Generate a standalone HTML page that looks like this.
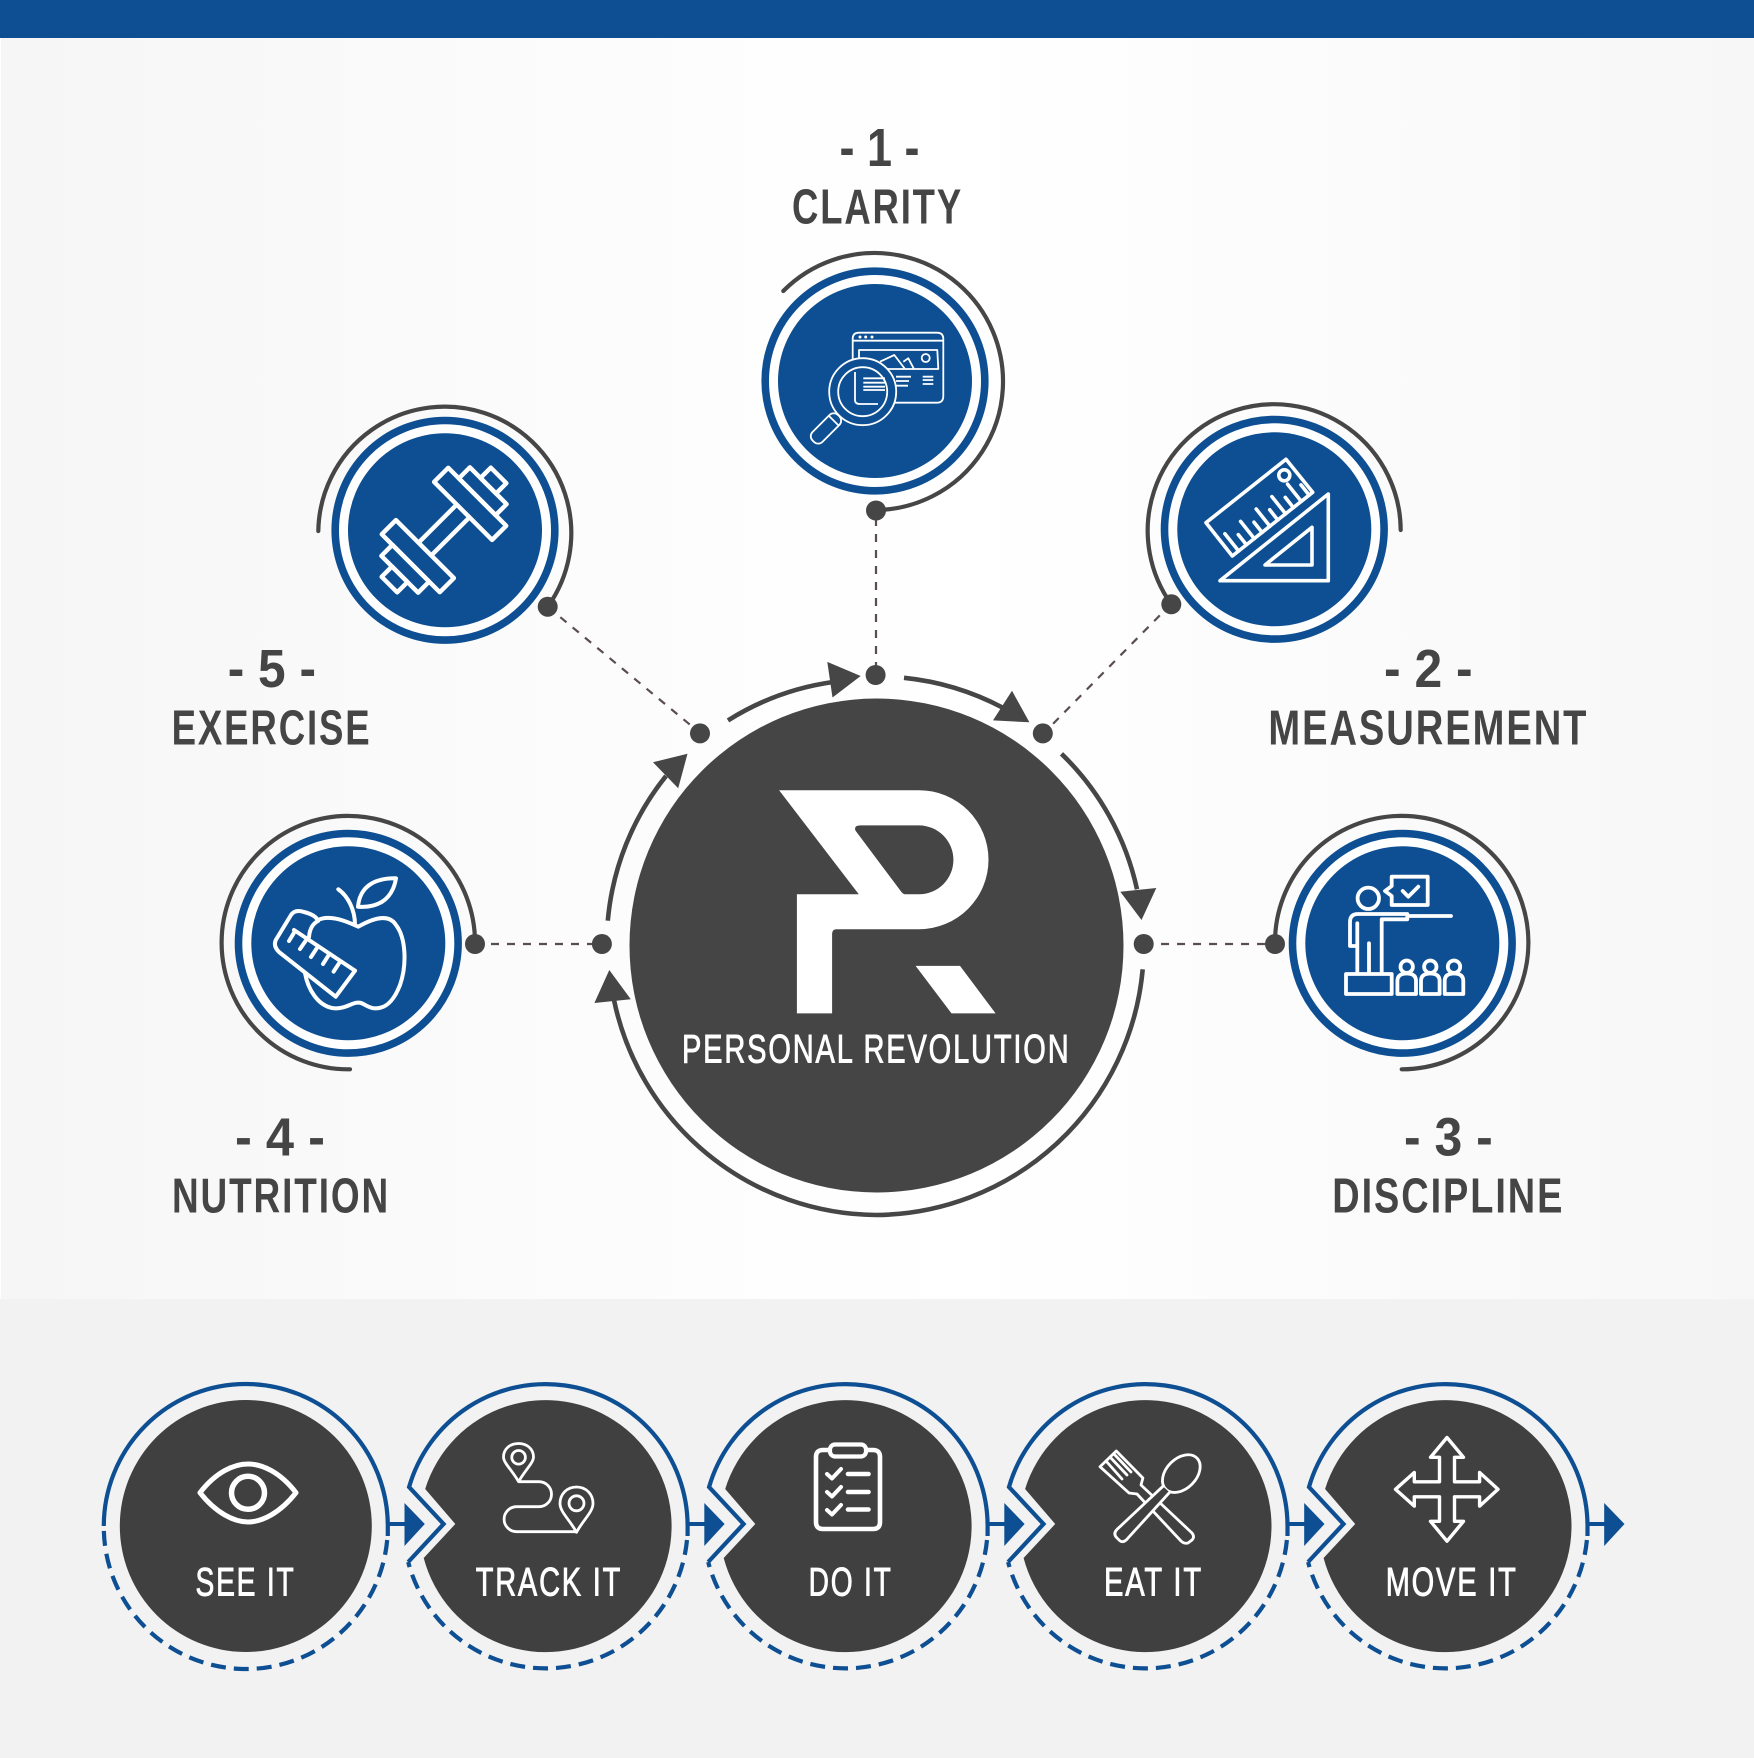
<!DOCTYPE html>
<html><head><meta charset="utf-8"><style>
html,body{margin:0;padding:0;background:#fff}
svg{display:block}
.h{font-family:"Liberation Sans",sans-serif;font-weight:700;font-size:49px;fill:#454545;letter-spacing:2.5px}
.n{font-family:"Liberation Sans",sans-serif;font-weight:700;font-size:54px;fill:#454545}
.w{font-family:"Liberation Sans",sans-serif;font-weight:400;font-size:39.5px;fill:#fff;stroke:#fff;stroke-width:.9;letter-spacing:2.5px}
</style></head><body>
<svg xmlns="http://www.w3.org/2000/svg" width="1754" height="1758" viewBox="0 0 1754 1758">
<defs>
<linearGradient id="bg" x1="0" x2="1" y1="0" y2="0"><stop offset="0" stop-color="#f6f6f6"/><stop offset=".4" stop-color="#fdfdfd"/><stop offset=".55" stop-color="#fff"/><stop offset="1" stop-color="#f7f7f7"/></linearGradient>
<g id="arr"><path d="M142,-2H160" stroke="#0d4f92" stroke-width="4" fill="none"/><path d="M158.7,-23L179,-2L158.7,20Z" fill="#0d4f92"/></g>
<g id="notched">
<path d="M-120.4,-37A126,126 0 1 1 -121.9,32L-90.3,-2Z" fill="#404040"/>
<path d="M142,10V0A142,142 0 0 0 -136.5,-39L-102,-2L-137.4,36" fill="none" stroke="#0d4f92" stroke-width="4.2"/>
<path d="M141.4,14A142,142 0 0 1 -137.4,36" fill="none" stroke="#0d4f92" stroke-width="4.2" stroke-dasharray="15 8"/>
<use href="#arr"/>
</g>
</defs>
<rect width="1754" height="1758" fill="#fff"/>
<rect x="1" y="38" width="1753" height="1261" fill="url(#bg)"/>
<rect y="1299" width="1754" height="459" fill="#f2f2f2"/>
<rect width="1754" height="38" fill="#0d4f92"/>

<!-- dashed connectors -->
<g stroke="#5a4d4d" stroke-width="2.2" fill="none" stroke-dasharray="8 8">
<path d="M876,518V668"/>
<path d="M1171,604L1044,733"/>
<path d="M548,607L700,733"/>
<path d="M475,944H602"/>
<path d="M1145,944H1275"/>
</g>

<!-- small circles -->
<g fill="#fff" stroke="#0d4f92" stroke-width="7.6">
<circle cx="875" cy="381" r="109.8"/>
<circle cx="1274.3" cy="529.3" r="109.8"/>
<circle cx="1402.3" cy="943.3" r="109.8"/>
<circle cx="348.3" cy="943.3" r="109.8"/>
<circle cx="445" cy="530.3" r="109.8"/>
</g>
<g fill="#0d4f92">
<circle cx="875" cy="381" r="97"/>
<circle cx="1274.3" cy="529.3" r="97"/>
<circle cx="1402.3" cy="943.3" r="97"/>
<circle cx="348.3" cy="943.3" r="97"/>
<circle cx="445" cy="530.3" r="97"/>
</g>
<!-- outer arcs -->
<g fill="none" stroke="#464646" stroke-width="4.2" stroke-linecap="round">
<path d="M783.3,291A128.5,128.5 0 1 1 876,510"/>
<path d="M1400.7,530A126.5,126.5 0 1 0 1171.3,604.3"/>
<path d="M1275,944A126.7,126.7 0 1 1 1401.7,1069.3"/>
<path d="M475,944.3A126.7,126.7 0 1 0 350,1069.3"/>
<path d="M318.3,531A126.5,126.5 0 1 1 547.7,606.7"/>
</g>
<g fill="#464646">
<circle cx="876" cy="510.5" r="10"/><circle cx="1171.3" cy="604.3" r="10"/><circle cx="1275" cy="944" r="10"/><circle cx="475" cy="944" r="10"/><circle cx="547.7" cy="606.7" r="10"/>
<circle cx="875.6" cy="675" r="10"/><circle cx="700" cy="733.4" r="10"/><circle cx="1042.8" cy="733.4" r="10"/><circle cx="601.9" cy="944" r="10"/><circle cx="1143.7" cy="944" r="10"/>
</g>

<!-- main circle -->
<circle cx="876.5" cy="945.5" r="247" fill="#454545"/>
<g fill="none" stroke="#464646" stroke-width="4.6">
<path d="M728,720.4A268,268 0 0 1 833,682"/>
<path d="M904,677.8A268.6,268.6 0 0 1 1002.4,707.5"/>
<path d="M1061.5,753.8A268.6,268.6 0 0 1 1137,889.2"/>
<path d="M1142.7,969.3A270,270 0 0 1 876,1215A270,270 0 0 1 614,1000"/>
<path d="M607.8,920.7A269,269 0 0 1 666,776"/>
</g>
<g fill="#464646">
<path d="M860.7,676L827.3,661.9L832.5,697.5Z"/>
<path d="M1029.4,722.3L1012,690.8L993,720.4Z"/>
<path d="M1141.5,920L1120.3,891.8L1156.3,888Z"/>
<path d="M609.3,970L594.4,1003L630.8,999.3Z"/>
<path d="M687.5,753.8L653,762.3L678.2,788.3Z"/>
</g>
<!-- logo -->
<path fill="#fff" fill-rule="evenodd" d="M779.1,790.2H919A69.5,69.5 0 0 1 919,929.2H836.6Q832.1,929.2 832.1,933.6V1013.4H796.9V894.3H858.8Z M855.5,830.6L900.7,891Q903,894.3 905.2,894.3H919A34.45,34.45 0 0 0 919,825.4H860.7Q853.5,825.4 855.5,830.6Z"/>
<path fill="#fff" d="M915.6,965.9H960L995.6,1013.4H951.5Z"/>
<text class="w" x="682" y="1062.7" textLength="388.5" lengthAdjust="spacingAndGlyphs">PERSONAL REVOLUTION</text>

<!-- labels -->
<text class="n" x="839.5" y="165.8" textLength="80" lengthAdjust="spacingAndGlyphs">- 1 -</text>
<text class="h" x="792" y="223.3" textLength="171" lengthAdjust="spacingAndGlyphs">CLARITY</text>
<text class="n" x="1384" y="687" textLength="88.6" lengthAdjust="spacingAndGlyphs">- 2 -</text>
<text class="h" x="1268.4" y="744.5" textLength="320" lengthAdjust="spacingAndGlyphs">MEASUREMENT</text>
<text class="n" x="1404" y="1155.5" textLength="88.7" lengthAdjust="spacingAndGlyphs">- 3 -</text>
<text class="h" x="1332.3" y="1212.7" textLength="232" lengthAdjust="spacingAndGlyphs">DISCIPLINE</text>
<text class="n" x="235" y="1155.5" textLength="90" lengthAdjust="spacingAndGlyphs">- 4 -</text>
<text class="h" x="172" y="1212.7" textLength="218" lengthAdjust="spacingAndGlyphs">NUTRITION</text>
<text class="n" x="227.7" y="687" textLength="88.3" lengthAdjust="spacingAndGlyphs">- 5 -</text>
<text class="h" x="171.6" y="744.5" textLength="200" lengthAdjust="spacingAndGlyphs">EXERCISE</text>

<!-- icon: clarity -->
<g fill="none" stroke="#fff" stroke-width="1.8" stroke-linejoin="round">
<path d="M852.7,402.7V339Q852.7,332.7 859,332.7H937Q943.3,332.7 943.3,339V396Q943.3,402.7 937,402.7Z"/>
<path d="M852.7,340.7H943.3"/>
<path d="M859,350H937.3L938.3,369H859Z"/>
<circle cx="925.7" cy="358" r="4"/>
<path d="M880,361.7L894.3,355L905,369M903.3,361.7L908.3,358.3L914,369"/>
<path d="M896,376.7H911M896,381H909M896,385.7H908M922.7,376.7H933.3M922.7,380H933.3M922.7,384H933.3"/>
<g transform="translate(838.7,415.7) rotate(45)"><rect x="-7" y="0" width="14" height="36" rx="6" fill="#0d4f92"/><path d="M-7,7H7"/></g>
<circle cx="862.7" cy="391.7" r="33.5" fill="#0d4f92"/>
<circle cx="862.7" cy="391.7" r="24.5"/>
<path d="M863.3,378.3H885M863.3,382.7H885M863.3,386.7H885M863.3,390H885M855,372V400Q855,404 860,404H878"/>
</g>
<g fill="#fff"><circle cx="860" cy="337" r="1.5"/><circle cx="865.7" cy="337" r="1.5"/><circle cx="872" cy="337" r="1.5"/></g>
<!-- icon: measurement -->
<g fill="none" stroke="#fff" stroke-width="3.6" stroke-linejoin="round" stroke-linecap="round">
<path d="M1286,459.3L1312.7,492.3L1232.3,556L1206,522.7Z"/>
<circle cx="1284.3" cy="475.3" r="5.5"/>
<path d="M1238.6,551L1224.9,533.8M1246.4,544.8L1238.3,534.6M1254.3,538.6L1240.6,521.4M1262.1,532.4L1254,522.2M1269.9,526.2L1256.2,509M1277.8,520L1269.7,509.8M1285.6,513.8L1271.9,496.6M1293.4,507.6L1285.3,497.4M1301.3,501.4L1287.6,484.2M1309.1,495.1L1301,484.9"/>
<path d="M1328.3,494V580.7H1220Z"/>
<path d="M1312,527.3V565H1265Z"/>
</g>
<!-- icon: discipline -->
<g fill="none" stroke="#fff" stroke-width="3.8" stroke-linejoin="round" stroke-linecap="round">
<circle cx="1368.3" cy="898.3" r="10.7"/>
<path d="M1391.7,876.7H1427.7V905H1391.7V896L1385,891L1391.7,886Z"/>
<path d="M1402.7,891L1408.3,896.7L1418.3,886.7"/>
<path d="M1357.3,946H1350V922Q1350,914 1358,914H1407.3V919.3H1381.7V973.3M1357.3,923.3V973.3M1369,943.3V973.3M1407.3,916H1451"/>
<rect x="1346" y="974" width="45.7" height="20"/>
<g><circle cx="1406.7" cy="966.7" r="6.2"/><path d="M1397.4,994V981Q1397.4,973.5 1406.7,973.5Q1416,973.5 1416,981V994Z"/></g>
<g><circle cx="1430.3" cy="966.7" r="6.2"/><path d="M1421,994V981Q1421,973.5 1430.3,973.5Q1439.6,973.5 1439.6,981V994Z"/></g>
<g><circle cx="1454" cy="966.7" r="6.2"/><path d="M1444.7,994V981Q1444.7,973.5 1454,973.5Q1463.3,973.5 1463.3,981V994Z"/></g>
</g>
<!-- icon: nutrition -->
<g fill="none" stroke="#fff" stroke-width="4" stroke-linejoin="round" stroke-linecap="round">
<path d="M318,920C330,914 348,922 358.3,926.7C370,920 388,912 396,925C406,938 407,965 400,985C393,1003 384,1010 372,1008C365,1006 362,1002 358.3,1002.7C352,1002 345,1010 332,1008C318,1005 308,990 305,973"/>
<path d="M338.3,889.3C348,896 355,910 355,925"/>
<path d="M396,878.3C378,878 360,884 358,906.7C375,908 392,902 396,878.3Z"/>
<path d="M355,970.7L335.7,996.7L279,952Q272,945 277,938L291,915Q295,909 304,912Q316,915 318,921Q310,925 309,937"/>
<path d="M355,970.7L294,930M294,932.7L289,941M305.7,940.7L300,949M316.7,948.3L311,957M328.3,955.7L323,964M339,963.3L333.6,971.6"/>
</g>
<!-- icon: exercise -->
<g transform="translate(444,530) rotate(-45)" fill="none" stroke="#fff" stroke-width="4.4" stroke-linejoin="round">
<path d="M-27,-9H27M-27,9H27"/>
<rect x="27" y="-41" width="20" height="82"/>
<rect x="47" y="-26" width="15.6" height="52"/>
<rect x="62.6" y="-11" width="14.6" height="22"/>
<rect x="-47" y="-41" width="20" height="82"/>
<rect x="-62.6" y="-26" width="15.6" height="52"/>
<rect x="-77.2" y="-11" width="14.6" height="22"/>
</g>

<!-- bottom row -->
<g transform="translate(245.8,1526)">
<circle r="126" fill="#404040"/>
<path d="M142,10V0A142,142 0 0 0 -142,0" fill="none" stroke="#0d4f92" stroke-width="4.2"/>
<path d="M141.4,14A142,142 0 0 1 -142,2" fill="none" stroke="#0d4f92" stroke-width="4.2" stroke-dasharray="15 8"/>
<use href="#arr"/>
</g>
<use href="#notched" transform="translate(545.6,1526)"/>
<use href="#notched" transform="translate(845.6,1526)"/>
<use href="#notched" transform="translate(1145.5,1526)"/>
<use href="#notched" transform="translate(1445.5,1526)"/>

<text class="w" x="195.5" y="1595.7" textLength="100" lengthAdjust="spacingAndGlyphs">SEE IT</text>
<text class="w" x="475.7" y="1595.7" textLength="146.5" lengthAdjust="spacingAndGlyphs">TRACK IT</text>
<text class="w" x="808.6" y="1595.7" textLength="84" lengthAdjust="spacingAndGlyphs">DO IT</text>
<text class="w" x="1104" y="1595.7" textLength="99" lengthAdjust="spacingAndGlyphs">EAT IT</text>
<text class="w" x="1385.7" y="1595.7" textLength="132" lengthAdjust="spacingAndGlyphs">MOVE IT</text>

<!-- see it -->
<g fill="none" stroke="#fff" stroke-linejoin="round">
<path stroke-width="5" d="M200,1492.7C216,1472 234,1464 248,1464C262,1464 280,1472 296,1492.7C280,1513 262,1522 248,1522C234,1522 216,1513 200,1492.7Z"/>
<circle cx="248" cy="1492.8" r="16.5" stroke-width="5.5"/>
</g>
<!-- track it -->
<g fill="none" stroke="#fff" stroke-width="2.8" stroke-linejoin="round">
<path d="M518.6,1481.7C512,1470 503.5,1463 503.5,1457C503.5,1449 510,1443.5 518.6,1443.5C527,1443.5 533.5,1449 533.5,1457C533.5,1463 525,1470 518.6,1481.7Z"/>
<circle cx="518.6" cy="1457.3" r="6.8"/>
<path d="M576.5,1532.3C570,1520 560,1512 560,1503.5C560,1494 567,1487 576.5,1487C586,1487 593,1494 593,1503.5C593,1512 583,1520 576.5,1532.3Z"/>
<circle cx="576.5" cy="1503.3" r="7.5"/>
<path d="M518.6,1481.7H539A12.5,12.5 0 0 1 539,1506.7H516.6A12.5,12.5 0 0 0 516.6,1531.7H576.5"/>
</g>
<!-- do it -->
<g fill="none" stroke="#fff" stroke-linejoin="round" stroke-linecap="round">
<path stroke-width="4.6" d="M829,1450H823Q816,1450 816,1457V1522Q816,1529 823,1529H873Q880,1529 880,1522V1457Q880,1450 873,1450H867"/>
<rect x="830" y="1444.5" width="36" height="12" rx="5" stroke-width="4.2"/>
<path stroke-width="4" d="M827,1474L832,1478.5L841,1469M827,1492L832,1496.5L841,1487M827,1510L832,1514.5L841,1505"/>
<path stroke-width="4.6" d="M848,1474H868.5M848,1492H868.5M848,1509.5H868.5"/>
</g>
<!-- eat it -->
<g fill="none" stroke="#fff" stroke-width="2.8" stroke-linejoin="round" stroke-linecap="round">
<path d="M1116.3,1451L1142.9,1478L1141,1485L1192,1533Q1195,1537 1192,1540L1188,1543Q1184,1544 1181,1541L1137,1494L1129,1493L1100,1466.7Z"/>
<path d="M1106,1461L1122,1479M1110,1457L1127,1475M1114,1454L1131,1472"/>
<g transform="translate(1180.6,1474.3) rotate(45)">
<ellipse cx="0" cy="-1" rx="15" ry="22" fill="#404040"/>
<path d="M-4,21L-6,84Q-6,90 0,90H3Q8,90 8,84L5,20.5" fill="#404040"/>
</g>
</g>
<!-- move it -->
<path fill="none" stroke="#fff" stroke-width="3.4" stroke-linejoin="round" d="M1447,1437.5L1463.5,1457.3H1454.5V1481.8H1479.6V1472.5L1498,1489.3L1479.6,1506.1V1496.8H1454.5V1521.3H1463.5L1447,1541.2L1430.5,1521.3H1439.5V1496.8H1414.3V1506.1L1395.5,1489.3L1414.3,1472.5V1481.8H1439.5V1457.3H1430.5Z"/>
</svg>
</body></html>
